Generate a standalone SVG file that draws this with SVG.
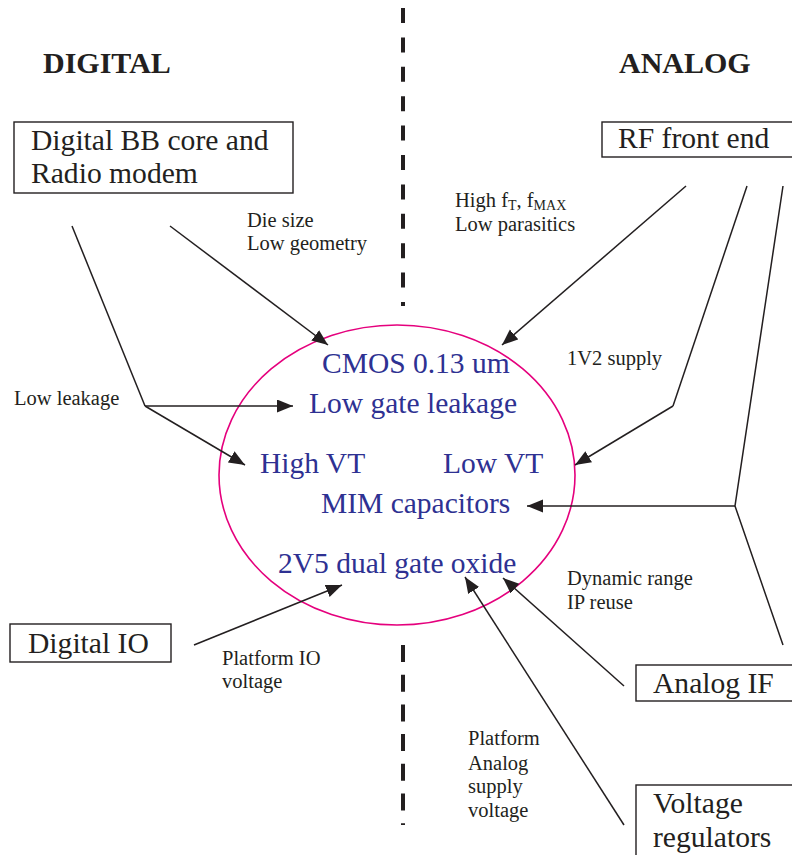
<svg xmlns="http://www.w3.org/2000/svg" width="792" height="855" viewBox="0 0 792 855">
  <style>
    .bg { fill: #ffffff; }
    .box { fill: #ffffff; stroke: #231f20; stroke-width: 1.4; }
    .big { font-family: "Liberation Serif", "Times New Roman", serif; font-size: 29.6px; fill: #231f20; }
    .head { font-family: "Liberation Serif", "Times New Roman", serif; font-size: 30px; font-weight: bold; fill: #231f20; }
    .small { font-family: "Liberation Serif", "Times New Roman", serif; font-size: 20.5px; fill: #231f20; }
    .sub { font-size: 14px; }
    .tech { font-family: "Liberation Serif", "Times New Roman", serif; font-size: 29.5px; fill: #2e3192; }
    .wire { fill: none; stroke: #231f20; stroke-width: 1.5; }
    .arrow { fill: none; stroke: #231f20; stroke-width: 1.5; marker-end: url(#head); }
    .divider { fill: none; stroke: #231f20; stroke-width: 4; }
    .process { fill: none; stroke: #e5007d; stroke-width: 1.6; }
  </style>
  <defs>
    <marker id="head" markerUnits="userSpaceOnUse" markerWidth="17" markerHeight="14" refX="16" refY="6.5" orient="auto">
      <path d="M0,0 L16,6.5 L0,13 z" fill="#231f20"/>
    </marker>
  </defs>

  <rect class="bg" x="0" y="0" width="792" height="855"/>

  <!-- digital / analog split -->
  <g id="divider">
    <line class="divider" x1="403" y1="8" x2="403" y2="306" stroke-dasharray="15 14.4"/>
    <line class="divider" x1="403" y1="645" x2="403" y2="825" stroke-dasharray="17 12.7"/>
  </g>

  <g id="headings">
    <text class="head" x="43" y="73">DIGITAL</text>
    <text class="head" x="619" y="73">ANALOG</text>
  </g>

  <!-- central process technology -->
  <g id="process">
    <ellipse class="process" cx="397" cy="475" rx="178" ry="150"/>
    <text class="tech" x="322" y="373">CMOS 0.13 um</text>
    <text class="tech" x="309" y="413">Low gate leakage</text>
    <text class="tech" x="260" y="473">High VT</text>
    <text class="tech" x="443" y="473">Low VT</text>
    <text class="tech" x="321" y="513">MIM capacitors</text>
    <text class="tech" x="278" y="573">2V5 dual gate oxide</text>
  </g>

  <g id="digital-bb">
    <rect class="box" x="14" y="122" width="279" height="71"/>
    <text class="big" x="31" y="150">Digital BB core and</text>
    <text class="big" x="31" y="183">Radio modem</text>
  </g>

  <g id="rf-front-end">
    <rect class="box" x="602" y="122" width="200" height="35"/>
    <text class="big" x="618" y="148">RF front end</text>
  </g>

  <g id="digital-io">
    <rect class="box" x="10" y="624" width="161" height="38"/>
    <text class="big" x="28" y="653">Digital IO</text>
  </g>

  <g id="analog-if">
    <rect class="box" x="636" y="665" width="166" height="36"/>
    <text class="big" x="653" y="693">Analog IF</text>
  </g>

  <g id="voltage-regulators">
    <rect class="box" x="636" y="785" width="166" height="80"/>
    <text class="big" x="653" y="813">Voltage</text>
    <text class="big" x="653" y="847">regulators</text>
  </g>

  <!-- connectors -->
  <g id="connectors">
    <line class="arrow" x1="170" y1="226" x2="328" y2="345"/>
    <polyline class="wire" points="72,226 145,406"/>
    <line class="arrow" x1="145" y1="406" x2="293" y2="406"/>
    <line class="arrow" x1="145" y1="406" x2="245" y2="465"/>
    <line class="arrow" x1="686" y1="186" x2="502" y2="345"/>
    <polyline class="wire" points="747,186 673,406"/>
    <line class="arrow" x1="673" y1="406" x2="575" y2="465"/>
    <polyline class="wire" points="783,186 735,506 783,645"/>
    <line class="arrow" x1="735" y1="506" x2="527" y2="506"/>
    <line class="arrow" x1="194" y1="645" x2="342" y2="585"/>
    <line class="arrow" x1="624" y1="686" x2="503" y2="578"/>
    <line class="arrow" x1="624" y1="825" x2="465" y2="577"/>
  </g>

  <g id="labels">
    <text class="small" x="247" y="227">Die size</text>
    <text class="small" x="247" y="250">Low geometry</text>
    <text class="small" x="455" y="207">High f<tspan class="sub" dy="3">T</tspan><tspan dy="-3">, f</tspan><tspan class="sub" dy="3">MAX</tspan></text>
    <text class="small" x="455" y="231">Low parasitics</text>
    <text class="small" x="14" y="405">Low leakage</text>
    <text class="small" x="567" y="365">1V2 supply</text>
    <text class="small" x="567" y="585">Dynamic range</text>
    <text class="small" x="567" y="609">IP reuse</text>
    <text class="small" x="222" y="665">Platform IO</text>
    <text class="small" x="222" y="688">voltage</text>
    <text class="small" x="468" y="745">Platform</text>
    <text class="small" x="468" y="770">Analog</text>
    <text class="small" x="468" y="793">supply</text>
    <text class="small" x="468" y="817">voltage</text>
  </g>
</svg>
